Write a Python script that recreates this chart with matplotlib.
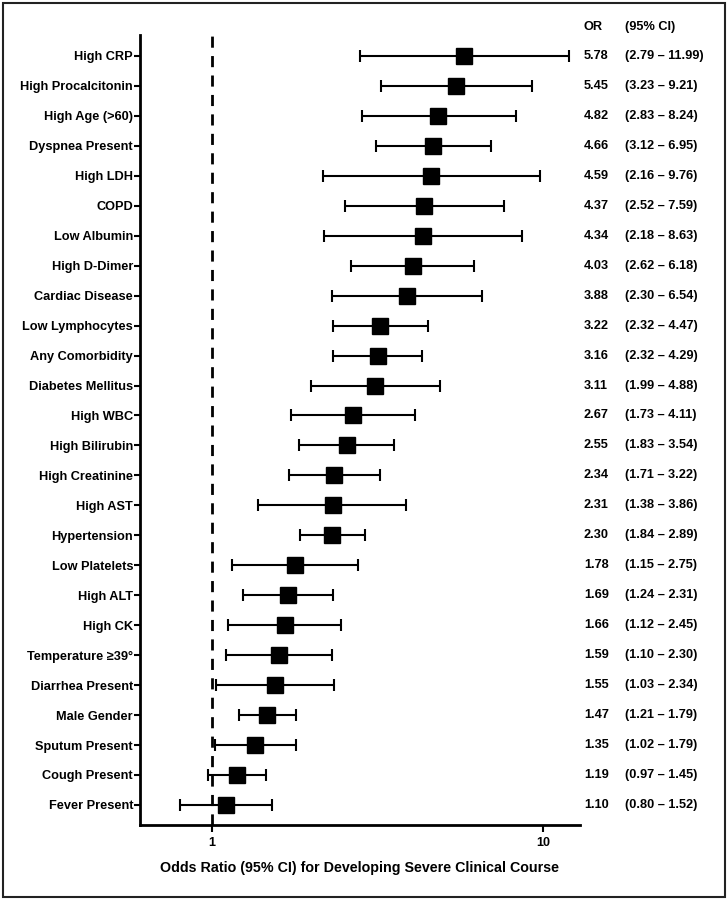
import matplotlib
matplotlib.use("Agg")
import matplotlib.pyplot as plt
from matplotlib.patches import Rectangle
from matplotlib.transforms import blended_transform_factory

# forest plot data (top to bottom)
labels = ["High CRP", "High Procalcitonin", "High Age (>60)", "Dyspnea Present", "High LDH",
          "COPD", "Low Albumin", "High D-Dimer", "Cardiac Disease", "Low Lymphocytes",
          "Any Comorbidity", "Diabetes Mellitus", "High WBC", "High Bilirubin", "High Creatinine",
          "High AST", "Hypertension", "Low Platelets", "High ALT", "High CK",
          "Temperature \u226539\u00b0", "Diarrhea Present", "Male Gender", "Sputum Present",
          "Cough Present", "Fever Present"]
odds = [5.78, 5.45, 4.82, 4.66, 4.59, 4.37, 4.34, 4.03, 3.88, 3.22, 3.16, 3.11, 2.67,
        2.55, 2.34, 2.31, 2.30, 1.78, 1.69, 1.66, 1.59, 1.55, 1.47, 1.35, 1.19, 1.10]
lower = [2.79, 3.23, 2.83, 3.12, 2.16, 2.52, 2.18, 2.62, 2.30, 2.32, 2.32, 1.99, 1.73,
         1.83, 1.71, 1.38, 1.84, 1.15, 1.24, 1.12, 1.10, 1.03, 1.21, 1.02, 0.97, 0.80]
upper = [11.99, 9.21, 8.24, 6.95, 9.76, 7.59, 8.63, 6.18, 6.54, 4.47, 4.29, 4.88, 4.11,
         3.54, 3.22, 3.86, 2.89, 2.75, 2.31, 2.45, 2.30, 2.34, 1.79, 1.79, 1.45, 1.52]

plt.rcParams['font.family'] = ['Liberation Sans', 'DejaVu Sans']
plt.rcParams['font.weight'] = 'bold'

fig = plt.figure(figsize=(7.28, 9), dpi=100)
ax = fig.add_axes([140/728, 75/900, 440/728, 790/900])

n = len(labels)
ypos = list(range(n - 1, -1, -1))
xerr = [[o - l for o, l in zip(odds, lower)], [u - o for o, u in zip(odds, upper)]]

ax.errorbar(odds, ypos, xerr=xerr, fmt='s', color='black', ecolor='black',
            markersize=11.5, elinewidth=1.5, capsize=4, capthick=1.5, zorder=3)
ax.axvline(1, color='black', linestyle=(0, (4, 3)), linewidth=2, zorder=1)

ax.set_xscale('log')
ax.set_xlim(0.606, 12.9)
ax.set_ylim(-0.67, n - 0.3)
ax.set_xticks([1, 10])
ax.set_xticklabels(['1', '10'])
ax.minorticks_off()
ax.set_yticks(ypos)
ax.set_yticklabels(labels, fontsize=9.2, fontweight='bold')
ax.tick_params(axis='y', length=4, width=1.5, pad=1)
ax.tick_params(axis='x', length=5, width=1.5, labelsize=9)
for s in ['top', 'right']:
    ax.spines[s].set_visible(False)
for s in ['left', 'bottom']:
    ax.spines[s].set_linewidth(2)
ax.set_xlabel("Odds Ratio (95% CI) for Developing Severe Clinical Course",
              fontsize=10.3, fontweight='bold', labelpad=9)

# right-hand text columns
tr = blended_transform_factory(fig.transFigure, ax.transData)
for y, o, l, u in zip(ypos, odds, lower, upper):
    ax.text(584/728, y, f"{o:.2f}", transform=tr, va='center', ha='left',
            fontsize=9.2, fontweight='bold')
    ax.text(625/728, y, f"({l:.2f} \u2013 {u:.2f})", transform=tr, va='center', ha='left',
            fontsize=9.2, fontweight='bold')
fig.text(584/728, 1 - 27/900, "OR", va='center', ha='left', fontsize=9.2, fontweight='bold')
fig.text(625/728, 1 - 27/900, "(95% CI)", va='center', ha='left', fontsize=9.2, fontweight='bold')

# outer border
fig.patches.append(Rectangle((3/728, 3/900), 722/728, 894/900, transform=fig.transFigure,
                             fill=False, edgecolor='#222222', linewidth=1.5))

fig.savefig("out.png", dpi=100)
